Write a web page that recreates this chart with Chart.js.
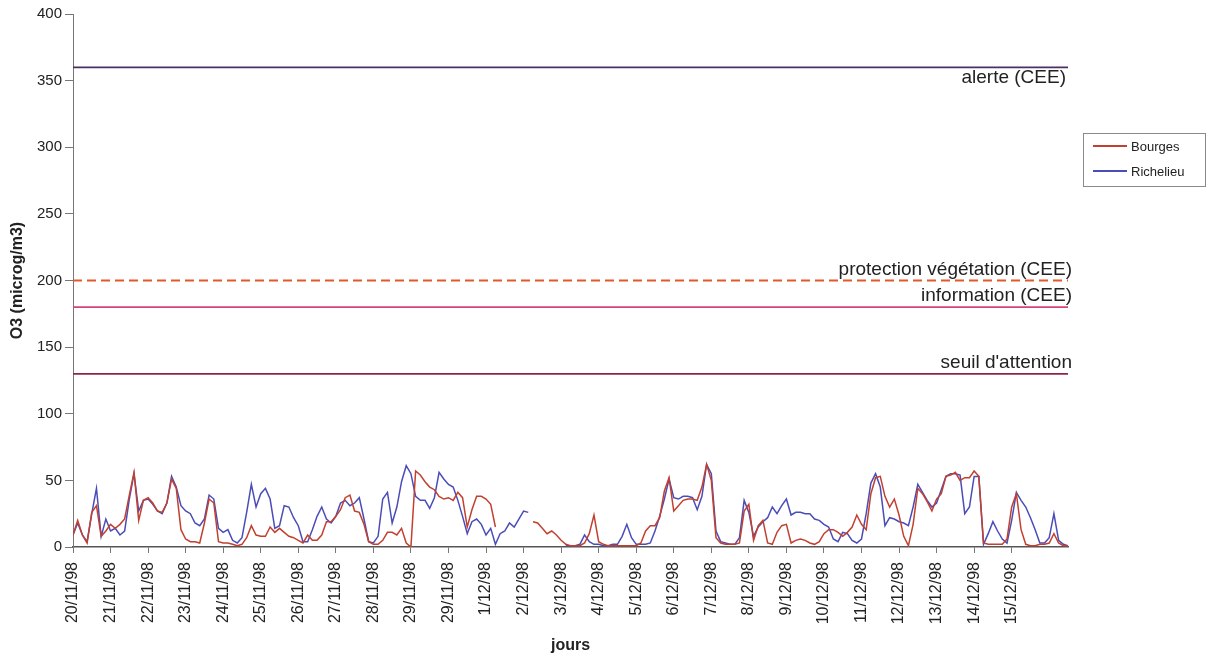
<!DOCTYPE html>
<html>
<head>
<meta charset="utf-8">
<title>O3 Bourges / Richelieu</title>
<script src="https://cdn.jsdelivr.net/npm/chart.js@4.4.0/dist/chart.umd.min.js"></script>
<style>
  html, body { margin: 0; padding: 0; background: #fff; }
  #wrap { position: relative; width: 1212px; height: 659px; }
</style>
</head>
<body>
<div id="wrap"><canvas id="o3Chart"></canvas></div>
<script>
// Ozone 20/11/98 - 15/12/98, one value every 3 hours (8 per day)
const SAMPLES_PER_DAY = 8;

const dayLabels = [
  '20/11/98', '21/11/98', '22/11/98', '23/11/98', '24/11/98', '25/11/98',
  '26/11/98', '27/11/98', '28/11/98', '29/11/98', '29/11/98', '1/12/98',
  '2/12/98', '3/12/98', '4/12/98', '5/12/98', '6/12/98', '7/12/98',
  '8/12/98', '9/12/98', '10/12/98', '11/12/98', '12/12/98', '13/12/98',
  '14/12/98', '15/12/98'
];

const bourges = [
  9, 20, 9, 3, 26, 31, 8, 12,
  17, 14, 17, 21, 39, 56, 20, 35,
  37, 33, 27, 26, 33, 51, 44, 13,
  6, 4, 4, 3, 18, 36, 33, 4,
  3, 3, 2, 1, 2, 7, 16, 9,
  8, 8, 15, 11, 14, 11, 8, 7,
  5, 3, 9, 5, 5, 9, 19, 19,
  23, 28, 37, 39, 27, 26, 17, 4,
  2, 2, 5, 11, 11, 9, 14, 3,
  0, 57, 54, 49, 45, 43, 38, 36,
  37, 35, 41, 37, 15, 28, 38, 38,
  36, 32, 15, null, null, null, null, null,
  null, null, 19, 18, 14, 10, 12, 9,
  5, 2, 1, 1, 1, 3, 10, 24,
  4, 2, 1, 1, 1, 1, 1, 1,
  1, 3, 12, 16, 16, 22, 42, 52,
  27, 31, 35, 36, 36, 35, 45, 62,
  50, 7, 3, 2, 2, 2, 3, 27,
  32, 5, 16, 20, 3, 2, 11, 16,
  17, 3, 5, 6, 5, 3, 2, 4,
  10, 13, 13, 11, 8, 11, 15, 24,
  17, 13, 40, 52, 53, 38, 30, 36,
  24, 8, 1, 17, 44, 40, 34, 27,
  36, 40, 53, 54, 56, 50, 52, 52,
  57, 53, 3, 2, 2, 2, 2, 6,
  30, 40, 13, 2, 1, 1, 2, 2,
  3, 10, 3, 1, 1
];

const richelieu = [
  9, 18, 9, 4, 25, 44, 8, 21,
  12, 14, 9, 12, 36, 55, 27, 35,
  36, 32, 27, 25, 33, 53, 45, 31,
  27, 25, 18, 16, 21, 39, 36, 14,
  11, 13, 5, 3, 7, 26, 47, 30,
  40, 44, 36, 14, 16, 31, 30, 22,
  16, 4, 4, 13, 23, 30, 21, 18,
  23, 33, 35, 31, 33, 37, 21, 4,
  3, 8, 36, 41, 18, 30, 49, 61,
  55, 38, 35, 35, 29, 37, 56, 51,
  47, 45, 35, 23, 10, 19, 21, 17,
  9, 14, 2, 10, 12, 18, 15, 21,
  27, 26, null, null, null, null, null, null,
  null, 1, 1, 1, 2, 9, 4, 2,
  2, 1, 1, 2, 2, 8, 17, 7,
  2, 2, 2, 3, 12, 23, 36, 51,
  37, 36, 38, 38, 37, 28, 38, 62,
  55, 12, 4, 3, 2, 2, 7, 35,
  26, 8, 15, 19, 22, 30, 25, 31,
  36, 24, 26, 26, 25, 25, 21, 20,
  17, 15, 6, 4, 11, 10, 5, 3,
  6, 25, 48, 55, 45, 16, 22, 21,
  19, 18, 16, 30, 47, 41, 35, 30,
  33, 43, 53, 55, 55, 54, 25, 30,
  53, 53, 2, 10, 19, 12, 6, 3,
  20, 41, 35, 30, 22, 13, 3, 3,
  7, 25, 5, 2, 1
];

// threshold levels (microg/m3)
const seuilNames = ['alerte (CEE)', 'protection végétation (CEE)', 'information (CEE)', "seuil d'attention"];
const seuilValues = [360, 200, 180, 130];

const lastDay = (bourges.length - 1) / SAMPLES_PER_DAY;

function toPoints(values) {
  return values.map((v, i) => ({ x: i / SAMPLES_PER_DAY, y: v }));
}

Chart.defaults.font.family = '"Liberation Sans", Arial, sans-serif';
Chart.defaults.color = '#222';

const seuilColors = ['#4e2f5e', '#e2582c', '#d8417a', '#8e2647'];
const seuilDash = [[], [9, 5], [], []];

const seuilDatasets = seuilValues.map((v, i) => ({
  label: seuilNames[i],
  isSeuil: true,
  data: [{ x: 0, y: v }, { x: lastDay, y: v }],
  borderColor: seuilColors[i],
  borderDash: seuilDash[i],
  borderWidth: 1.8,
  pointRadius: 0
}));

// labels written over / under the threshold lines
const seuilLabelPlugin = {
  id: 'seuilLabels',
  afterDatasetsDraw(chart) {
    const { ctx, chartArea, scales } = chart;
    ctx.save();
    ctx.font = '19px "Liberation Sans", Arial, sans-serif';
    ctx.fillStyle = '#222';
    ctx.textAlign = 'right';
    chart.data.datasets.forEach(ds => {
      if (!ds.isSeuil) return;
      const y = scales.y.getPixelForValue(ds.data[0].y);
      if (ds.data[0].y > 300) {
        // alerte: written under its line
        ctx.textBaseline = 'top';
        ctx.fillText(ds.label, chartArea.right - 2, y + 1);
      } else {
        ctx.textBaseline = 'alphabetic';
        ctx.fillText(ds.label, chartArea.right + 4, y - 6);
      }
    });
    ctx.restore();
  }
};

// framed legend to the right of the plot
const legendBoxPlugin = {
  id: 'legendBox',
  afterDraw(chart) {
    const { ctx, chartArea } = chart;
    const series = chart.data.datasets.filter(ds => !ds.isSeuil);
    const left = chartArea.right + 15;
    const top = chartArea.top + 119;
    ctx.save();
    ctx.strokeStyle = '#8a8a8a';
    ctx.lineWidth = 1;
    ctx.strokeRect(left + 0.5, top + 0.5, 122, 53);
    ctx.font = '13px "Liberation Sans", Arial, sans-serif';
    ctx.textBaseline = 'middle';
    ctx.fillStyle = '#222';
    series.forEach((ds, i) => {
      const y = top + 13 + i * 25;
      ctx.strokeStyle = ds.borderColor;
      ctx.lineWidth = 1.8;
      ctx.beginPath();
      ctx.moveTo(left + 10, y);
      ctx.lineTo(left + 44, y);
      ctx.stroke();
      ctx.fillText(ds.label, left + 48, y + 1);
    });
    ctx.restore();
  }
};

new Chart(document.getElementById('o3Chart'), {
  type: 'line',
  data: {
    datasets: [
      {
        label: 'Bourges',
        data: toPoints(bourges),
        borderColor: '#c2402f',
        borderWidth: 1.5,
        pointRadius: 0,
        spanGaps: false
      },
      {
        label: 'Richelieu',
        data: toPoints(richelieu),
        borderColor: '#4a4cb8',
        borderWidth: 1.5,
        pointRadius: 0,
        spanGaps: false
      },
      ...seuilDatasets
    ]
  },
  options: {
    responsive: true,
    maintainAspectRatio: false,
    animation: false,
    layout: { padding: { top: 14, right: 144, left: 0, bottom: 0 } },
    plugins: {
      legend: { display: false },
      tooltip: { enabled: false }
    },
    scales: {
      x: {
        type: 'linear',
        min: 0,
        max: lastDay,
        afterFit(scale) { scale.height = 112; },
        ticks: {
          stepSize: 1,
          autoSkip: false,
          minRotation: 90,
          maxRotation: 90,
          padding: 9,
          font: { size: 16 },
          callback(v) {
            if (!Number.isInteger(v)) return null;
            return dayLabels[v] || '';
          }
        },
        grid: { drawOnChartArea: false, tickLength: 6, color: '#777' },
        border: { color: '#555', width: 1.5 },
        title: {
          display: true,
          text: 'jours',
          font: { size: 16, weight: 'bold' },
          padding: { top: 0, bottom: 4 }
        }
      },
      y: {
        min: 0,
        max: 400,
        afterFit(scale) { scale.width = 73; },
        ticks: { stepSize: 50, padding: 3, font: { size: 15 } },
        grid: { drawOnChartArea: false, tickLength: 8, color: '#777' },
        border: { color: '#777' },
        title: {
          display: true,
          text: 'O3 (microg/m3)',
          font: { size: 16, weight: 'bold' },
          padding: { top: 8, bottom: 0 }
        }
      }
    }
  },
  plugins: [seuilLabelPlugin, legendBoxPlugin]
});
</script>
</body>
</html>
